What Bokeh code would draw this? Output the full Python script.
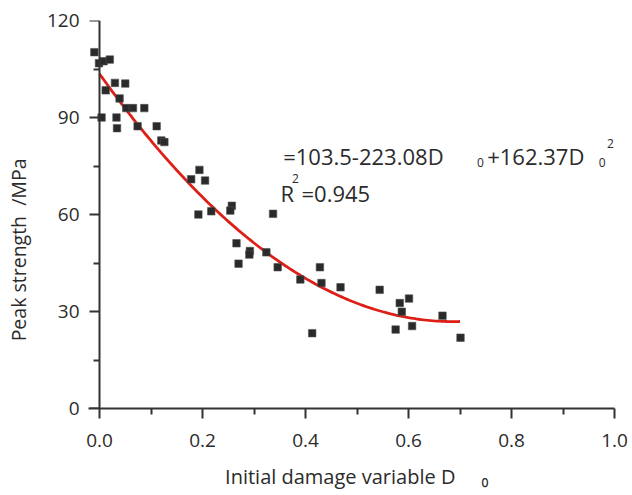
import numpy as np
from bokeh.plotting import figure
from bokeh.models import Range1d, FixedTicker, Label, LinearAxis
from bokeh.embed import file_html
from bokeh.resources import INLINE

# ---- data ----
d0 = [-0.010, -0.001, 0.008, 0.020, 0.030, 0.050, 0.012, 0.039, 0.052, 0.065,
      0.087, 0.004, 0.033, 0.034, 0.074, 0.111, 0.120, 0.126, 0.194, 0.178,
      0.205, 0.192, 0.217, 0.257, 0.254, 0.337, 0.266, 0.292, 0.291, 0.324,
      0.270, 0.346, 0.390, 0.428, 0.431, 0.468, 0.544, 0.413, 0.583, 0.601,
      0.587, 0.575, 0.607, 0.666, 0.701]
strength = [110.2, 106.8, 107.4, 107.9, 100.7, 100.5, 98.4, 95.9, 92.9, 92.9,
            92.9, 90.0, 90.0, 86.7, 87.3, 87.3, 82.9, 82.4, 73.8, 70.9,
            70.5, 60.0, 61.0, 62.7, 61.2, 60.2, 51.1, 48.7, 47.6, 48.3,
            44.8, 43.7, 39.9, 43.7, 38.8, 37.5, 36.7, 23.3, 32.6, 34.0,
            29.9, 24.4, 25.5, 28.7, 21.9]

# fitted curve shown in the chart: y = 103.5 - 223.08 D0 + 162.37 D0^2
fit_coef = [103.5, -223.08, 162.37]
fit_span = [0.0, 0.7]

x_ticks = [0.0, 0.2, 0.4, 0.6, 0.8, 1.0]
x_tick_labels = ["0.0", "0.2", "0.4", "0.6", "0.8", "1.0"]
x_minor = [0.1, 0.3, 0.5, 0.7, 0.9]
y_ticks = [0, 30, 60, 90, 120]
y_tick_labels = ["0", "30", "60", "90", "120"]
y_minor = [15, 45, 75, 105]

NB = "\u00a0"
x_title = NB * 2 + "Initial damage variable D" + NB * 5 + "\u2080"
y_title = "Peak strength" + NB + " /MPa" + NB * 14
eq_main = "=103.5-223.08D"
eq_second = "+162.37D"
r2_text = "=0.945"

# ---- figure ----
W, H = 632, 495
FONT = "Open Sans"
TXT = "#2b2b2b"
AX = "#333333"

p = figure(width=W, height=H, output_backend="svg", toolbar_location=None,
           x_range=Range1d(-11 / 515, 1.0), y_range=Range1d(0, 120),
           min_border_left=88, min_border_right=18, min_border_top=20,
           min_border_bottom=87)
p.outline_line_color = None
p.grid.visible = False
p.background_fill_color = "white"

fx = np.linspace(fit_span[0], fit_span[1], 141)
fy = fit_coef[0] + fit_coef[1] * fx + fit_coef[2] * fx ** 2
p.line(fx, fy, line_color="#dd1f17", line_width=2.8)

p.scatter(d0, strength, marker="square", size=7.5, fill_color="#2a2a2a",
          line_color="#505050", line_width=0.6)


def style(ax):
    ax.axis_line_color = AX
    ax.axis_line_width = 2
    ax.major_tick_line_color = AX
    ax.major_tick_line_width = 2
    ax.minor_tick_line_color = AX
    ax.minor_tick_line_width = 2
    ax.major_tick_in = 0
    ax.minor_tick_in = 0
    ax.major_tick_out = 10
    ax.minor_tick_out = 6
    ax.major_label_text_font = FONT
    ax.major_label_text_font_size = "19px"
    ax.major_label_text_color = TXT
    ax.axis_label_text_font = FONT
    ax.axis_label_text_font_style = "normal"
    ax.axis_label_text_color = TXT


# x axis
xa = p.xaxis[0]
style(xa)
xa.ticker = FixedTicker(ticks=x_ticks, minor_ticks=x_minor)
xa.major_label_overrides = {t: l for t, l in zip(x_ticks, x_tick_labels)}
xa.major_label_standoff = 15
xa.axis_label = x_title
xa.axis_label_text_font_size = "20px"
xa.axis_label_standoff = 13

# y axis: labels + title on the frame-edge axis, line and ticks on an axis at D0 = 0
ya = p.yaxis[0]
style(ya)
ya.ticker = FixedTicker(ticks=y_ticks, minor_ticks=y_minor)
ya.major_label_overrides = {t: l for t, l in zip(y_ticks, y_tick_labels)}
ya.axis_line_color = None
ya.major_tick_line_color = None
ya.minor_tick_line_color = None
ya.major_tick_out = 0
ya.minor_tick_out = 0
ya.major_label_standoff = 9
ya.axis_label = y_title
ya.axis_label_text_font_size = "19.5px"
ya.axis_label_standoff = 12

y0 = LinearAxis(ticker=FixedTicker(ticks=y_ticks, minor_ticks=y_minor))
style(y0)
y0.major_label_text_font_size = "0px"
y0.major_label_text_color = None
y0.major_label_standoff = 0
y0.fixed_location = 0
p.add_layout(y0, "left")


def lab(text, x, y, size, align="left", baseline="alphabetic"):
    p.add_layout(Label(x=x, y=y, x_units="screen", y_units="screen", text=text,
                       text_font=FONT, text_font_size=size, text_color=TXT,
                       text_align=align, text_baseline=baseline))


# equation annotation (positions relative to frame's bottom-left corner)
lab(eq_main, 194.7, 253, "22px")
lab("0", 392, 246, "12px", align="center", baseline="middle")
lab(eq_second, 398.7, 253, "22px")
lab("0", 513.7, 246, "12px", align="center", baseline="middle")
lab("2", 522, 265, "12px", align="center", baseline="middle")

lab("R", 192, 216, "22px")
lab("2", 207, 230, "12px", align="center", baseline="middle")
lab(r2_text, 213, 216, "22px")

open("out.html", "w").write(file_html(p, INLINE))
